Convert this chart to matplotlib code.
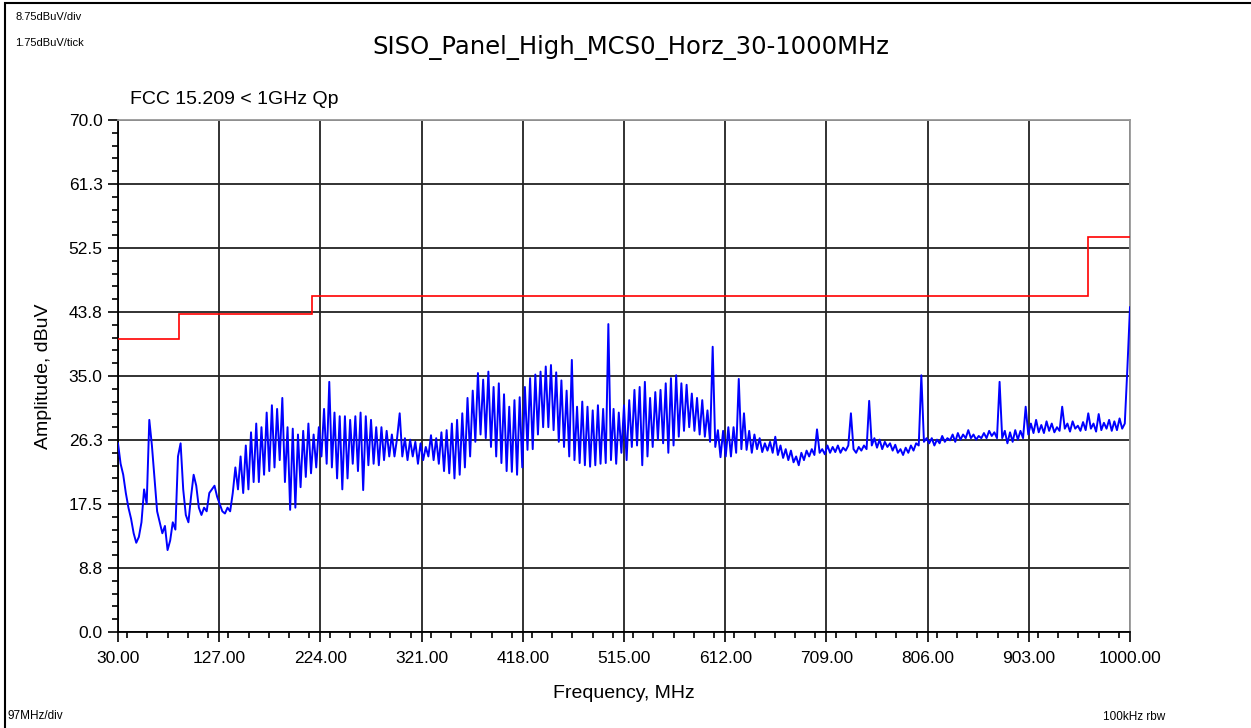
import numpy as np
import matplotlib.pyplot as plt
from matplotlib.patches import Rectangle
from matplotlib.ticker import MultipleLocator

plt.rcParams['font.family'] = ['Liberation Sans', 'DejaVu Sans']

# sweep: 30 MHz start, 2.5 MHz per sample
start_mhz = 30.0
step_mhz = 2.5

amplitude = [
    25.8, 23.0, 21.5, 19.0, 17.0, 15.5, 13.5, 12.2, 13.0, 15.0, 19.5, 17.5, 29.0, 25.5, 21.0, 16.5, 15.0, 13.5, 14.5, 11.2,
    12.5, 15.0, 14.0, 24.0, 25.8, 19.5, 16.0, 15.0, 18.5, 21.5, 20.0, 17.0, 16.0, 17.0, 16.5, 19.0, 19.5, 20.0, 18.5, 17.5,
    16.5, 16.2, 17.0, 16.5, 19.0, 22.5, 19.5, 24.0, 19.0, 25.5, 19.5, 27.3, 20.5, 28.5, 20.5, 28.0, 21.5, 30.0, 22.0, 31.0,
    22.5, 30.5, 23.5, 32.0, 20.5, 28.0, 16.7, 27.8, 17.0, 27.0, 19.8, 27.5, 21.2, 28.5, 21.7, 27.0, 22.5, 28.0, 24.0, 30.5,
    23.0, 34.2, 22.5, 30.0, 21.0, 29.5, 19.5, 29.5, 21.0, 29.0, 23.0, 29.5, 22.0, 30.0, 19.4, 29.5, 22.8, 29.0, 23.0, 28.0,
    22.8, 28.0, 23.5, 27.5, 24.0, 27.0, 24.0, 26.5, 29.9, 24.0, 26.5, 23.5, 26.3, 24.0, 26.0, 23.0, 25.8, 23.5, 25.3, 24.0,
    26.9, 23.5, 26.5, 23.0, 27.3, 22.0, 27.6, 21.7, 28.5, 21.0, 29.0, 21.5, 29.9, 22.5, 32.0, 24.0, 33.0, 26.0, 35.4, 27.0,
    34.5, 26.5, 35.6, 25.3, 33.5, 24.0, 34.0, 23.1, 32.5, 22.0, 30.8, 21.9, 31.7, 21.5, 32.1, 22.5, 33.5, 24.9, 34.7, 25.0,
    35.2, 27.0, 35.6, 28.0, 36.3, 28.0, 36.5, 27.6, 35.5, 26.0, 34.4, 25.3, 33.0, 24.0, 37.2, 23.5, 30.8, 23.1, 31.5, 22.8,
    30.8, 22.6, 30.3, 22.8, 31.0, 23.0, 30.5, 23.1, 42.1, 23.5, 30.5, 23.0, 30.0, 24.5, 31.0, 23.5, 31.7, 25.3, 33.1, 25.5,
    33.5, 22.8, 34.2, 24.0, 32.0, 25.3, 32.8, 26.3, 33.1, 25.8, 34.0, 24.5, 34.7, 25.5, 35.1, 26.7, 34.0, 27.5, 33.8, 28.0,
    32.6, 27.5, 32.0, 27.0, 31.7, 26.7, 30.3, 26.0, 39.0, 25.3, 27.6, 23.9, 27.5, 24.0, 28.0, 24.0, 28.0, 24.5, 34.6, 25.0,
    29.9, 24.9, 27.5, 24.5, 27.0, 25.0, 26.5, 24.6, 25.8, 24.8, 26.0, 24.5, 26.7, 24.2, 25.5, 23.8, 25.0, 23.5, 24.8, 23.2,
    24.0, 22.8, 24.5, 23.5, 24.8, 24.0, 25.0, 24.2, 27.7, 24.5, 25.0, 24.3, 25.5, 24.5, 25.3, 24.6, 25.5, 24.5, 25.2, 24.8,
    25.5, 29.9, 25.0, 24.5, 25.3, 24.8, 25.5, 25.0, 31.6, 25.5, 26.5, 25.2, 26.3, 25.0, 26.0, 25.3, 25.8, 24.8, 25.6, 24.5,
    25.0, 24.2, 25.2, 24.5, 25.5, 24.8, 25.8, 25.5, 35.1, 26.0, 26.5, 25.8, 26.5, 25.5, 26.3, 25.8, 26.8, 26.0, 26.5, 26.2,
    27.0, 26.0, 27.2, 26.3, 27.0, 26.5, 27.6, 26.5, 27.0, 26.3, 26.8, 26.5, 27.2, 26.5, 27.5, 26.8, 27.3, 26.5, 34.2, 26.5,
    27.5, 25.8, 27.3, 26.0, 27.6, 26.3, 27.5, 26.5, 30.8, 27.0, 28.5, 27.2, 29.0, 27.3, 28.3, 27.2, 28.8, 27.5, 28.5, 27.3,
    28.0, 27.5, 30.8, 27.8, 28.5, 27.4, 28.8, 27.8, 28.2, 27.5, 28.7, 27.6, 29.9, 27.8, 28.5, 27.4, 29.8, 27.6, 28.6, 27.8,
    29.0, 27.5, 28.8, 27.6, 29.2, 27.8, 28.5, 36.1, 44.4,
]

# FCC 15.209 limit line
limit_edges = [30, 88, 216, 960, 1000]
limit_level = [40.0, 43.5, 46.0, 54.0]

x_ticks = [30, 127, 224, 321, 418, 515, 612, 709, 806, 903, 1000]
x_labels = ['30.00', '127.00', '224.00', '321.00', '418.00', '515.00',
            '612.00', '709.00', '806.00', '903.00', '1000.00']
y_ticks = [0, 8.75, 17.5, 26.25, 35, 43.75, 52.5, 61.25, 70]
y_labels = ['0.0', '8.8', '17.5', '26.3', '35.0', '43.8', '52.5', '61.3', '70.0']

freq = start_mhz + step_mhz * np.arange(len(amplitude))

fig = plt.figure(figsize=(12.51, 7.28), dpi=100)
ax = fig.add_axes([118 / 1251, 1 - 632 / 728, 1012 / 1251, 512 / 728])

ax.plot(freq, amplitude, color='#0000ff', lw=1.4, zorder=3)
ax.stairs(limit_level, limit_edges, baseline=None, color='#ff0000', lw=1.2, zorder=4)

ax.set_xlim(30, 1000)
ax.set_ylim(0, 70)
ax.set_xticks(x_ticks)
ax.set_xticklabels(x_labels)
ax.set_yticks(y_ticks)
ax.set_yticklabels(y_labels)
ax.xaxis.set_minor_locator(MultipleLocator(19.4))
ax.yaxis.set_minor_locator(MultipleLocator(1.75))
ax.tick_params(which='major', direction='out', length=7, width=1.2, labelsize=12.5, color='black', pad=7)
ax.tick_params(which='minor', direction='out', length=4, width=1.2, color='black')
ax.tick_params(axis='y', pad=4)

ax.grid(True, which='major', color='#222222', lw=1.3)
for s in ['top', 'right']:
    ax.spines[s].set_color('#999999')
    ax.spines[s].set_linewidth(1.3)
for s in ['left', 'bottom']:
    ax.spines[s].set_color('black')
    ax.spines[s].set_linewidth(1.3)

ax.set_xlabel('Frequency, MHz', fontsize=14, labelpad=13)
ax.set_ylabel('Amplitude, dBuV', fontsize=14, labelpad=12)

fig.text(631 / 1251, 1 - 47 / 728, 'SISO_Panel_High_MCS0_Horz_30-1000MHz',
         ha='center', va='center', fontsize=17.5, family=['DejaVu Sans'])
fig.text(130 / 1251, 1 - 99 / 728, 'FCC 15.209 < 1GHz Qp', ha='left', va='center', fontsize=14)
fig.text(15 / 1251, 1 - 17 / 728, '8.75dBuV/div', ha='left', va='center', fontsize=8)
fig.text(15 / 1251, 1 - 43 / 728, '1.75dBuV/tick', ha='left', va='center', fontsize=8)
fig.text(7 / 1251, 1 - 716 / 728, '97MHz/div', ha='left', va='center', fontsize=8.5)
fig.text(1103 / 1251, 1 - 717 / 728, '100kHz rbw', ha='left', va='center', fontsize=8.5)

# outer frame
fig.add_artist(Rectangle((5 / 1251, -0.02), 1.1, 1.02 - 3 / 728, fill=False,
                         ec='black', lw=1.5, transform=fig.transFigure))

fig.savefig('out.png', dpi=100)
